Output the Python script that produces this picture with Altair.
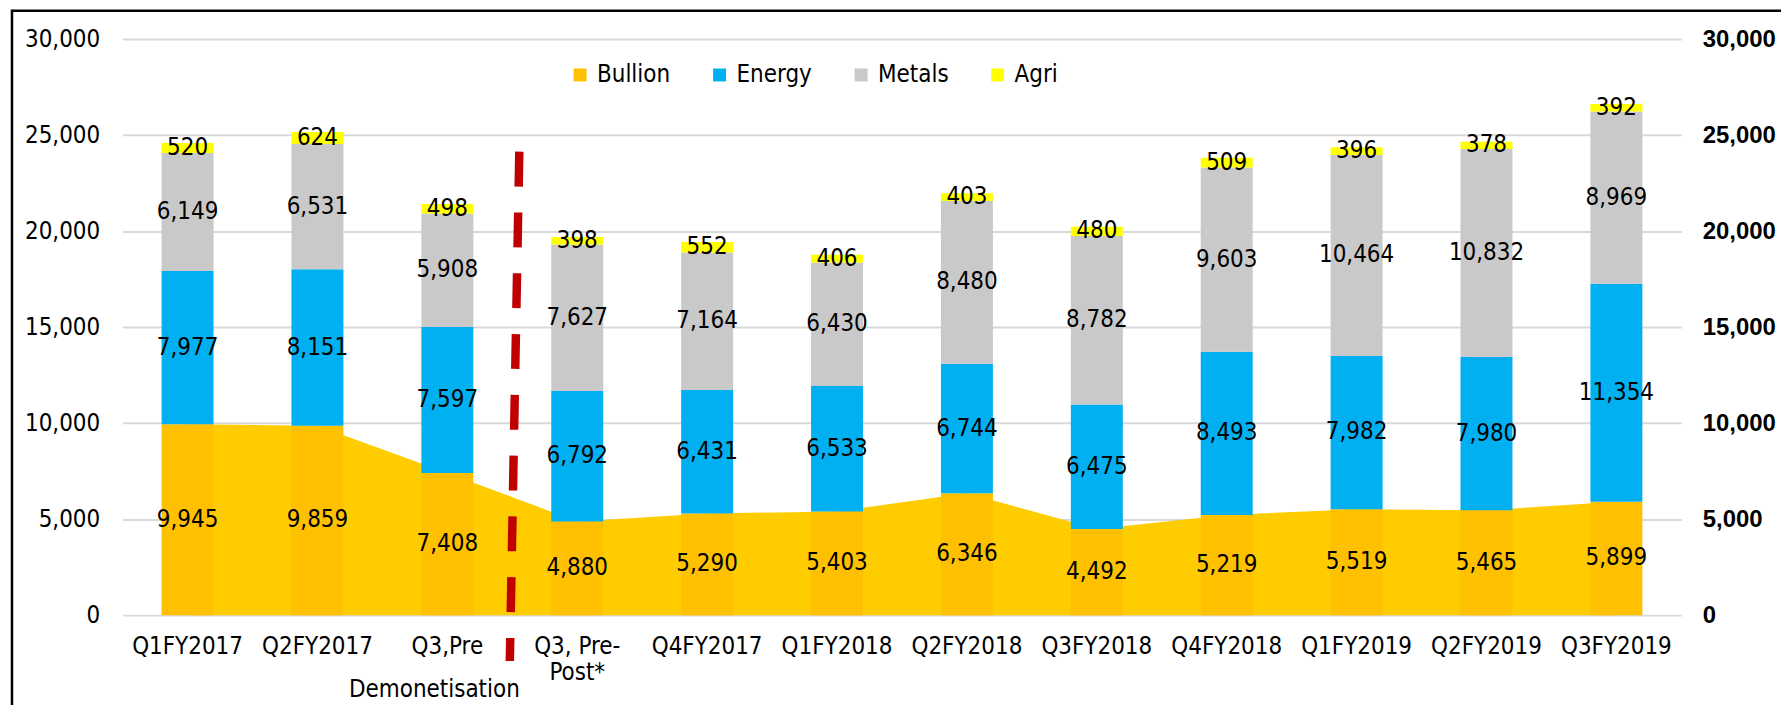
import altair as alt
import pandas as pd

# ---------------- data ----------------
categories = ["Q1FY2017", "Q2FY2017", "Q3,Pre", "Q3, Pre-Post*", "Q4FY2017", "Q1FY2018",
              "Q2FY2018", "Q3FY2018", "Q4FY2018", "Q1FY2019", "Q2FY2019", "Q3FY2019"]
series_names = ["Bullion", "Energy", "Metals", "Agri"]
bullion = [9945, 9859, 7408, 4880, 5290, 5403, 6346, 4492, 5219, 5519, 5465, 5899]
energy = [7977, 8151, 7597, 6792, 6431, 6533, 6744, 6475, 8493, 7982, 7980, 11354]
metals = [6149, 6531, 5908, 7627, 7164, 6430, 8480, 8782, 9603, 10464, 10832, 8969]
agri = [520, 624, 498, 398, 552, 406, 403, 480, 509, 396, 378, 392]
y_ticks = [0, 5000, 10000, 15000, 20000, 25000, 30000]

# annotation: dashed divider (category units / data units) and second-line label
divider_x = [3.054, 2.981]
divider_y = [24135, -2390]
note_category = "Q3,Pre"
note_text = "Demonetisation"
note_y = -3880

# ---------------- styles ----------------
series_colors = ["#FFC000", "#00B0F0", "#C9C9C9", "#FFFF00"]
area_color = "#FFCC00"
FONT = "DejaVu Sans Condensed"
FS = 24

rows = []
for i, c in enumerate(categories):
    base = 0
    for s, vals in zip(series_names, [bullion, energy, metals, agri]):
        v = vals[i]
        rows.append({"cat": c, "series": s, "value": v, "y0": base, "y1": base + v, "mid": base + v / 2})
        base += v
df = pd.DataFrame(rows)
area_df = pd.DataFrame({"cat": categories, "value": bullion})
note_df = pd.DataFrame({"cat": [note_category], "y": [note_y], "label": [note_text]})
div_df = pd.DataFrame({"x": divider_x, "y": divider_y, "idx": list(range(len(divider_x)))})
tick_df = pd.DataFrame({"v": y_ticks})


def yscale():
    return alt.Scale(domain=[0, 30000], nice=False, zero=True)


def xscale():
    return alt.Scale(domain=categories, paddingInner=0.6, paddingOuter=0.3)


x_axis = alt.X("cat:N", sort=categories, scale=xscale(),
               axis=alt.Axis(title=None, domain=False, ticks=False, labelPadding=19,
                             labelFont=FONT, labelFontSize=FS, labelColor="#000000",
                             labelLineHeight=27, labelAngle=0,
                             labelExpr="datum.value == 'Q3, Pre-Post*' ? ['Q3, Pre-', 'Post*'] : datum.label"))


def x_plain():
    return alt.X("cat:N", sort=categories, scale=xscale(), axis=None)


area = alt.Chart(area_df).mark_area(color=area_color, opacity=1).encode(
    x=x_plain(),
    y=alt.Y("value:Q", scale=yscale(), axis=None),
)

bars = alt.Chart(df).mark_bar().encode(
    x=x_axis,
    y=alt.Y("y1:Q", scale=yscale(),
            axis=alt.Axis(title=None, orient="left", values=y_ticks, format=",d", domain=False, ticks=False,
                          labelPadding=23, labelFont=FONT, labelFontSize=FS, labelColor="#000000",
                          grid=True, gridColor="#D9D9D9", gridWidth=2)),
    y2="y0:Q",
    color=alt.Color("series:N", scale=alt.Scale(domain=series_names, range=series_colors),
                    legend=alt.Legend(title=None, orient="none", legendX=447, legendY=24,
                                      direction="horizontal", columns=4, columnPadding=37,
                                      gridAlign="none",
                                      symbolType="square", symbolSize=169, symbolStrokeWidth=0,
                                      symbolOpacity=1, labelOffset=5, padding=0,
                                      labelFont=FONT, labelFontSize=24, labelColor="#000000")),
)

labels = alt.Chart(df).mark_text(font=FONT, fontSize=FS, color="#000000", baseline="middle").encode(
    x=x_plain(),
    y=alt.Y("mid:Q", scale=yscale(), axis=None),
    text=alt.Text("value:Q", format=","),
)

note = alt.Chart(note_df).mark_text(font=FONT, fontSize=FS, color="#000000", baseline="middle", dx=-13).encode(
    x=x_plain(),
    y=alt.Y("y:Q", scale=yscale(), axis=None),
    text="label:N",
)

divider = alt.Chart(div_df).mark_line(color="#C00000", strokeWidth=8.5, strokeDash=[35, 26],
                                      strokeCap="butt").encode(
    x=alt.X("x:Q", scale=alt.Scale(domain=[0, 12], nice=False, zero=False), axis=None),
    y=alt.Y("y:Q", scale=yscale(), axis=None),
    order="idx:Q",
)

right_axis = alt.Chart(tick_df).mark_point(opacity=0).encode(
    y=alt.Y("v:Q", scale=yscale(),
            axis=alt.Axis(orient="right", title=None, values=y_ticks, format=",d", domain=False,
                          ticks=False, grid=False, labelPadding=21, labelFont="Liberation Sans",
                          labelFontWeight="bold", labelFontSize=24, labelColor="#000000")),
)

border = alt.Chart(pd.DataFrame({"a": [0]})).mark_rect(
    fillOpacity=0, stroke="#000000", strokeWidth=2.5).encode(
    x=alt.value(-111), x2=alt.value(1800), y=alt.value(-28.5), y2=alt.value(900)
)

chart = alt.layer(area, bars, labels, note, divider, right_axis, border).resolve_scale(
    x="independent", y="independent"
).properties(
    width=1564, height=578,
    padding={"left": 115, "top": 30, "right": 100, "bottom": 92},
    autosize=alt.AutoSizeParams(type="none"),
).configure_view(strokeWidth=0)

chart.save("out.html", embed_options={"renderer": "svg", "actions": False})
